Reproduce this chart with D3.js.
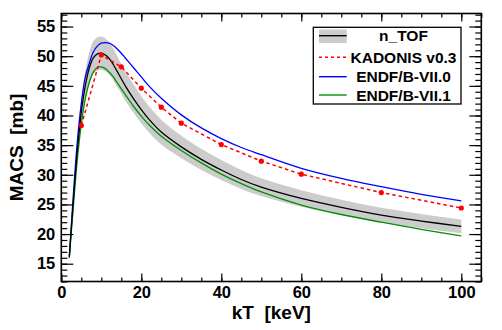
<!DOCTYPE html>
<html>
<head>
<meta charset="utf-8">
<script src="https://d3js.org/d3.v7.min.js"></script>
<style>
  body { margin: 0; background: #fff; }
  svg { font-family: "Liberation Sans", Arial, Helvetica, sans-serif; font-weight: bold; }
  .axis text { font-size: 16.5px; fill: #000; }
  .axis line { stroke: #000; stroke-width: 1.2px; }
  .axis path { display: none; }
</style>
</head>
<body>
<script>
// values
var kT       = [2, 3, 4, 5, 6, 7, 8, 9, 10, 11, 12, 13, 14, 15, 16, 18, 20, 22, 25, 30, 35, 40, 45, 50, 60, 70, 80, 90, 100];
var nTOF     = [16.1, 25.5, 34.0, 40.5, 45.0, 48.0, 49.7, 50.4, 50.5, 50.2, 49.6, 48.6, 47.4, 46.2, 45.0, 42.9, 41.0, 39.3, 37.2, 34.7, 32.6, 30.8, 29.2, 27.9, 26.0, 24.5, 23.2, 22.2, 21.3];
var nTOFerr  = [0.9, 1.4, 1.9, 2.2, 2.5, 2.7, 2.8, 2.8, 2.8, 2.8, 2.7, 2.7, 2.6, 2.5, 2.5, 2.4, 2.3, 2.2, 2.1, 1.9, 1.8, 1.7, 1.6, 1.5, 1.4, 1.3, 1.25, 1.2, 1.15];
var endf70   = [16.2, 26.5, 35.5, 42.0, 46.5, 48.8, 50.7, 51.7, 52.2, 52.3, 52.2, 51.8, 51.2, 50.5, 49.7, 48.1, 46.5, 44.9, 42.9, 40.1, 37.9, 36.1, 34.6, 33.4, 31.1, 29.4, 28.0, 26.7, 25.6];
var endf71   = [16.0, 24.5, 32.5, 38.5, 42.8, 45.6, 47.3, 48.1, 48.2, 47.9, 47.3, 46.5, 45.5, 44.5, 43.5, 41.6, 39.9, 38.4, 36.5, 34.1, 32.0, 30.1, 28.5, 27.1, 24.9, 23.3, 22.0, 20.8, 19.7];
var kadonisKT = [5, 10, 15, 20, 25, 30, 40, 50, 60, 80, 100];
var kadonis   = [38.3, 50.2, 48.2, 44.6, 41.4, 38.7, 35.1, 32.3, 30.1, 27.0, 24.4];
var xTicks = [0, 20, 40, 60, 80, 100];
var yTicks = [15, 20, 25, 30, 35, 40, 45, 50, 55];
var legendNames = ["n_TOF", "KADONIS v0.3", "ENDF/B-VII.0", "ENDF/B-VII.1"];

(function() {
  var W = 502, H = 330;
  var pl = 61.3, pr = 481.3, pt = 13.5, pb = 281.5;

  var svg = d3.select("body").append("svg")
      .attr("width", W)
      .attr("height", H);

  var x = d3.scaleLinear().domain([0, 105]).range([pl, pr]);
  var y = d3.scaleLinear().domain([12, 57.2]).range([pb, pt]);
  var smooth = d3.curveCatmullRom.alpha(0.5);

  var rows = kT.map(function(k, i) {
    return { k: k, v: nTOF[i], e: nTOFerr[i], b: endf70[i], g: endf71[i] };
  });

  // clip to frame
  svg.append("clipPath").attr("id", "clip")
    .append("rect")
      .attr("x", pl).attr("y", pt)
      .attr("width", pr - pl).attr("height", pb - pt);

  var plot = svg.append("g").attr("clip-path", "url(#clip)");

  // n_TOF uncertainty band
  plot.append("path")
      .datum(rows)
      .attr("fill", "#cccccc")
      .attr("d", d3.area()
        .curve(smooth)
        .x(function(d) { return x(d.k); })
        .y0(function(d) { return y(d.v - d.e); })
        .y1(function(d) { return y(d.v + d.e); }));

  function curve(key, color) {
    plot.append("path")
        .datum(rows)
        .attr("fill", "none")
        .attr("stroke", color)
        .attr("stroke-width", 1.3)
        .attr("d", d3.line()
          .curve(smooth)
          .x(function(d) { return x(d.k); })
          .y(function(d) { return y(d[key]); }));
  }
  curve("b", "#0000ff");
  curve("g", "#009000");
  curve("v", "#000000");

  // KADONIS points + dashed line
  var kad = kadonisKT.map(function(k, i) { return { k: k, v: kadonis[i] }; });
  plot.append("path")
      .datum(kad)
      .attr("fill", "none")
      .attr("stroke", "#ff0000")
      .attr("stroke-width", 1.5)
      .attr("stroke-dasharray", "3.5,3")
      .attr("d", d3.line()
        .x(function(d) { return x(d.k); })
        .y(function(d) { return y(d.v); }));
  plot.selectAll("circle.kad")
      .data(kad)
    .enter().append("circle")
      .attr("class", "kad")
      .attr("cx", function(d) { return x(d.k); })
      .attr("cy", function(d) { return y(d.v); })
      .attr("r", 2.6)
      .attr("fill", "#ff0000");

  // axes: major + minor ticks on all four sides
  var xMinor = d3.range(0, 106, 5);
  var yMinor = d3.range(12, 57.5, 1);

  svg.append("g").attr("class", "axis")
      .attr("transform", "translate(0," + pb + ")")
      .call(d3.axisBottom(x).tickValues(xTicks).tickSize(-8).tickPadding(5).tickFormat(d3.format("d")));
  svg.append("g").attr("class", "axis")
      .attr("transform", "translate(0," + pb + ")")
      .call(d3.axisBottom(x).tickValues(xMinor).tickSize(-4).tickFormat(""));
  svg.append("g").attr("class", "axis")
      .attr("transform", "translate(0," + pt + ")")
      .call(d3.axisTop(x).tickValues(xTicks).tickSize(-8).tickFormat(""));
  svg.append("g").attr("class", "axis")
      .attr("transform", "translate(0," + pt + ")")
      .call(d3.axisTop(x).tickValues(xMinor).tickSize(-4).tickFormat(""));

  svg.append("g").attr("class", "axis")
      .attr("transform", "translate(" + pl + ",0)")
      .call(d3.axisLeft(y).tickValues(yTicks).tickSize(-12).tickPadding(6));
  svg.append("g").attr("class", "axis")
      .attr("transform", "translate(" + pl + ",0)")
      .call(d3.axisLeft(y).tickValues(yMinor).tickSize(-6).tickFormat(""));
  svg.append("g").attr("class", "axis")
      .attr("transform", "translate(" + pr + ",0)")
      .call(d3.axisRight(y).tickValues(yTicks).tickSize(-12).tickFormat(""));
  svg.append("g").attr("class", "axis")
      .attr("transform", "translate(" + pr + ",0)")
      .call(d3.axisRight(y).tickValues(yMinor).tickSize(-6).tickFormat(""));

  svg.selectAll(".axis").attr("font-family", null).attr("font-size", null);

  // frame
  svg.append("rect")
      .attr("x", pl).attr("y", pt)
      .attr("width", pr - pl).attr("height", pb - pt)
      .attr("fill", "none")
      .attr("stroke", "#000")
      .attr("stroke-width", 1.6);

  // axis titles
  svg.append("text")
      .attr("x", (pl + pr) / 2)
      .attr("y", 319)
      .attr("text-anchor", "middle")
      .style("font-size", "19px")
      .style("white-space", "pre")
      .text("kT  [keV]");
  svg.append("text")
      .attr("transform", "translate(23," + (pt + pb) / 2 + ") rotate(-90)")
      .attr("text-anchor", "middle")
      .style("font-size", "19px")
      .style("white-space", "pre")
      .text("MACS  [mb]");

  // legend
  var lg = svg.append("g");
  lg.append("rect")
      .attr("x", 313.3).attr("y", 27.3)
      .attr("width", 147.7).attr("height", 76.7)
      .attr("fill", "#fff")
      .attr("stroke", "#000")
      .attr("stroke-width", 1.3);

  var rowY = [35.7, 57.3, 76.7, 95];
  lg.append("rect")
      .attr("x", 319).attr("y", 29.5)
      .attr("width", 27.7).attr("height", 13.5)
      .attr("fill", "#cccccc");
  var symColors = ["#000000", "#ff0000", "#0000ff", "#009000"];
  legendNames.forEach(function(name, i) {
    lg.append("line")
        .attr("x1", 319).attr("x2", 346.7)
        .attr("y1", rowY[i]).attr("y2", rowY[i])
        .attr("stroke", symColors[i])
        .attr("stroke-width", 1.4)
        .attr("stroke-dasharray", i === 1 ? "3,3" : null);
    lg.append("text")
        .attr("x", 403.5)
        .attr("y", rowY[i])
        .attr("dy", "0.36em")
        .attr("text-anchor", "middle")
        .style("font-size", "15.5px")
        .text(name);
  });
})();
</script>
</body>
</html>
